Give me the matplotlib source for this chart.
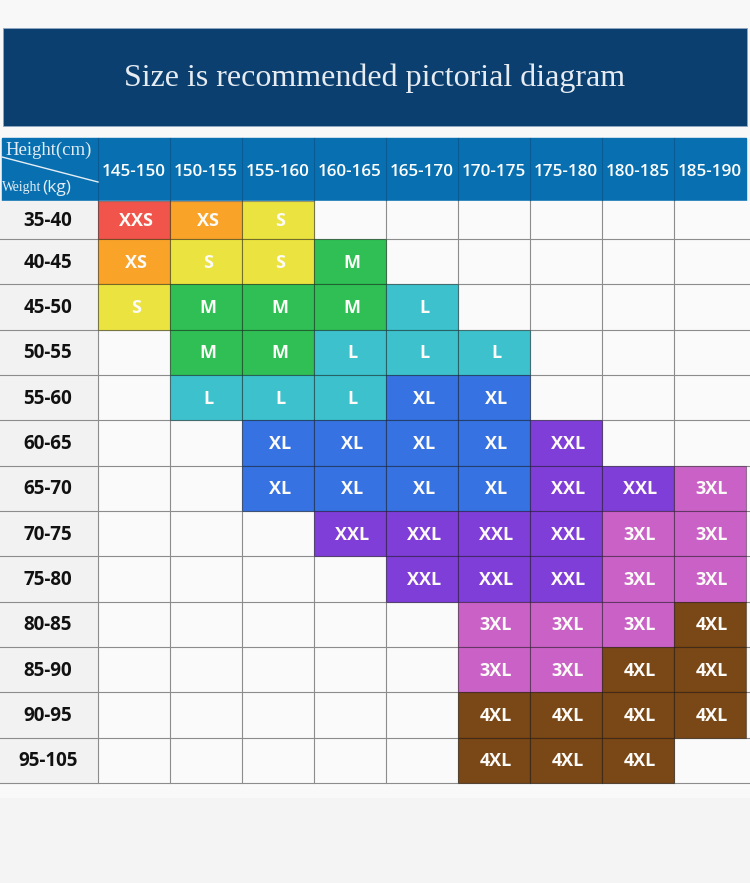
import matplotlib
matplotlib.use('Agg')
import matplotlib.pyplot as plt
from matplotlib.patches import Rectangle

title = 'Size is recommended pictorial diagram'
heights = ['145-150', '150-155', '155-160', '160-165', '165-170',
           '170-175', '175-180', '180-185', '185-190']
weights = ['35-40', '40-45', '45-50', '50-55', '55-60', '60-65', '65-70',
           '70-75', '75-80', '80-85', '85-90', '90-95', '95-105']
sizes = [
    ['XXS', 'XS', 'S', '', '', '', '', '', ''],
    ['XS', 'S', 'S', 'M', '', '', '', '', ''],
    ['S', 'M', 'M', 'M', 'L', '', '', '', ''],
    ['', 'M', 'M', 'L', 'L', 'L', '', '', ''],
    ['', 'L', 'L', 'L', 'XL', 'XL', '', '', ''],
    ['', '', 'XL', 'XL', 'XL', 'XL', 'XXL', '', ''],
    ['', '', 'XL', 'XL', 'XL', 'XL', 'XXL', 'XXL', '3XL'],
    ['', '', '', 'XXL', 'XXL', 'XXL', 'XXL', '3XL', '3XL'],
    ['', '', '', '', 'XXL', 'XXL', 'XXL', '3XL', '3XL'],
    ['', '', '', '', '', '3XL', '3XL', '3XL', '4XL'],
    ['', '', '', '', '', '3XL', '3XL', '4XL', '4XL'],
    ['', '', '', '', '', '4XL', '4XL', '4XL', '4XL'],
    ['', '', '', '', '', '4XL', '4XL', '4XL', ''],
]
size_colors = {
    'XXS': '#F0544A', 'XS': '#F9A328', 'S': '#EBE33F', 'M': '#2FBF55',
    'L': '#3DC1CD', 'XL': '#3672E1', 'XXL': '#7F3ED8', '3XL': '#C961C7',
    '4XL': '#7A4716',
}

# layout in pixels
W, H = 750, 883
label_w = 98
col_w = 72
head_top, head_bot = 138, 201
first_h = 38
row_h = (783 - 239) / 12

col_x = [label_w + col_w * j for j in range(len(heights) + 1)]
row_y = [head_bot, head_bot + first_h] + [head_bot + first_h + row_h * k for k in range(1, len(weights))]

fig = plt.figure(figsize=(7.5, 8.83), dpi=100)
fig.patch.set_facecolor('#F4F4F4')
ax = fig.add_axes([0, 0, 1, 1])
ax.set_xlim(0, W)
ax.set_ylim(H, 0)
ax.axis('off')

# background bands
ax.add_patch(Rectangle((0, 0), W, head_top, color='#F8F8F8', zorder=0))
ax.add_patch(Rectangle((0, 783), W, 14, color='#F9F9F9', zorder=0))

# title banner
ax.add_patch(Rectangle((3, 28), 744, 98, facecolor='#0A3F6F', edgecolor='#8FA9C4', lw=0.6, zorder=1))
ax.text(375, 78, title, ha='center', va='center', color='#E6ECF2',
        fontsize=23, family='Liberation Serif', zorder=2)

# header row
ax.add_patch(Rectangle((2, head_top), col_x[-1] - 2, head_bot - head_top, color='#0870B0', zorder=1))
for j, h in enumerate(heights):
    if j > 0:
        ax.plot([col_x[j], col_x[j]], [head_top, head_bot], color='#0A5B93', lw=0.8, zorder=2)
    ax.text((col_x[j] + col_x[j + 1]) / 2, 172, h, ha='center', va='center',
            color='white', fontsize=12.3, fontweight='semibold', family='Open Sans', zorder=3)
ax.plot([label_w, label_w], [head_top, head_bot], color='#0A5B93', lw=0.8, zorder=2)
ax.plot([2, label_w], [157, 182], color='#E6EEF5', lw=1.0, zorder=3)
ax.text(5, 155, 'Height(cm)', ha='left', va='baseline', color='#E3EDF6',
        fontsize=13.5, family='Liberation Serif', zorder=3)
ax.text(2, 191.5, 'Weight', ha='left', va='baseline', color='#E3EDF6',
        fontsize=9.8, family='Liberation Serif', zorder=3)
ax.text(42, 191.5, '(kg)', ha='left', va='baseline', color='#E3EDF6',
        fontsize=12.5, family='Open Sans', zorder=3)

# table body
ax.add_patch(Rectangle((0, head_bot), label_w, 783 - head_bot, color='#F2F2F2', zorder=1))
ax.add_patch(Rectangle((label_w, head_bot), W - label_w, 783 - head_bot, color='#FAFAFA', zorder=1))

for i, w in enumerate(weights):
    y0, y1 = row_y[i], row_y[i + 1]
    ax.text(label_w / 2 - 1, (y0 + y1) / 2 + 1, w, ha='center', va='center',
            color='#111111', fontsize=13.5, fontweight='bold', family='Open Sans', zorder=4)
    for j, s in enumerate(sizes[i]):
        if not s:
            continue
        ax.add_patch(Rectangle((col_x[j], y0), col_w, y1 - y0, facecolor=size_colors[s],
                               edgecolor=(0, 0, 0, 0.35), lw=0.8, zorder=3))
        ax.text((col_x[j] + col_x[j + 1]) / 2 + 2, (y0 + y1) / 2 + 1, s, ha='center', va='center',
                color='#FDFBF8', fontsize=13, fontweight='bold', family='Open Sans', zorder=4)

# grid lines
for y in row_y[1:]:
    ax.plot([0, W], [y, y], color='#8C8C8C', lw=0.8, zorder=2)
for x in col_x[:-1]:
    ax.plot([x, x], [head_bot, 783], color='#8C8C8C', lw=0.8, zorder=2)

fig.savefig('out.png', dpi=100, facecolor=fig.get_facecolor())
